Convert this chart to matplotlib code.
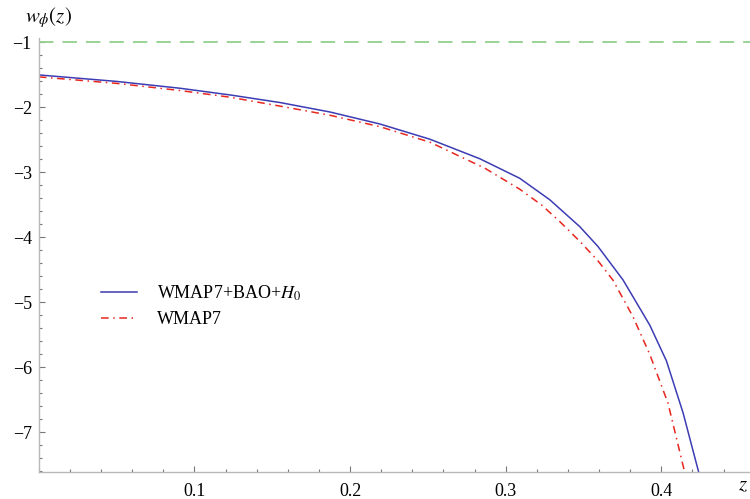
import numpy as np
import matplotlib
matplotlib.use("Agg")
import matplotlib.pyplot as plt
from matplotlib.ticker import MultipleLocator, FixedLocator

plt.rcParams['font.family'] = ['Liberation Serif', 'DejaVu Serif']
plt.rcParams['mathtext.fontset'] = 'stix'

# values
z_blue = [0.0, 0.05, 0.0907, 0.1229, 0.155, 0.187, 0.219, 0.2513, 0.2834, 0.309,
          0.3283, 0.3476, 0.3593, 0.3754, 0.3926, 0.4033, 0.414, 0.424]
w_blue = [-1.50, -1.60, -1.705, -1.808, -1.925, -2.07, -2.254, -2.489, -2.79, -3.09,
          -3.42, -3.834, -4.14, -4.654, -5.35, -5.90, -6.70, -7.61]

z_red = [0.0, 0.05, 0.0907, 0.1229, 0.155, 0.187, 0.219, 0.2513, 0.2866, 0.309,
         0.323, 0.3348, 0.3476, 0.3593, 0.369, 0.3818, 0.3926, 0.4043, 0.415]
w_red = [-1.53, -1.63, -1.74, -1.843, -1.98, -2.12, -2.295, -2.535, -2.935, -3.258,
         -3.50, -3.757, -4.06, -4.36, -4.66, -5.22, -5.80, -6.55, -7.61]

w_ref = -1.0
xticks = [0.1, 0.2, 0.3, 0.4]
yticks = [-1, -2, -3, -4, -5, -6, -7]

fig = plt.figure(figsize=(7.5, 4.99), dpi=100)
ax = fig.add_axes([0.0517, 0.0541, 0.9483, 0.870])

ax.axhline(w_ref, color='#92d08e', lw=1.3, dashes=(8, 5))
ax.plot(z_blue, w_blue, color='#3c3cb4', lw=1.1, label=r'WMAP7+BAO+$H_0$')
ax.plot(z_red, w_red, color='#e8261e', lw=1.1, dashes=(5, 3, 1, 3), label='WMAP7')

ax.set_xlim(0, 0.457)
ax.set_ylim(-7.61, -0.93)

for s in ['top', 'right']:
    ax.spines[s].set_visible(False)
for s in ['left', 'bottom']:
    ax.spines[s].set_color('#b8b8b8')
    ax.spines[s].set_linewidth(1.0)

ax.xaxis.set_major_locator(FixedLocator(xticks))
ax.xaxis.set_minor_locator(MultipleLocator(0.02))
ax.yaxis.set_major_locator(FixedLocator(yticks))
ax.yaxis.set_minor_locator(MultipleLocator(0.2))
ax.set_xticklabels([f'{v:.1f}' for v in xticks])
ax.set_yticklabels(['\u2212' + str(abs(v)) for v in yticks])

ax.tick_params(which='both', direction='in', color='#777777', width=0.8, labelsize=13)
ax.tick_params(which='major', length=4)
ax.tick_params(which='minor', length=2.3)
ax.tick_params(axis='x', pad=8)
ax.tick_params(axis='y', pad=5)

fig.text(25 / 750, 1 - 5 / 499, r'$w_{\phi}(z)$', fontsize=15, va='top', ha='left')
fig.text(743 / 750, 1 - 486 / 499, r'$z$', fontsize=15, va='center', ha='center')

ax.legend(loc='upper left', bbox_to_anchor=(0.065, 0.472), frameon=False, fontsize=13,
          handlelength=2.0, handletextpad=1.1, labelspacing=0.45)

fig.savefig('out.png', dpi=100)
